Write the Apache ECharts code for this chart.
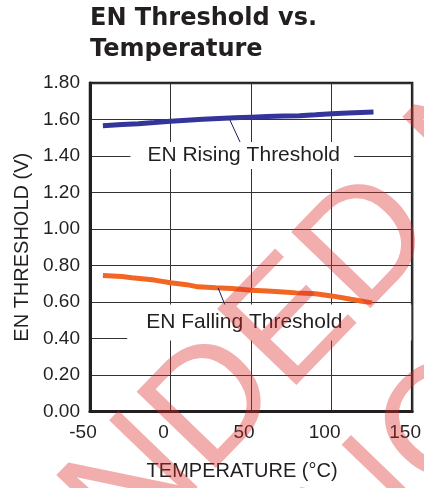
<!DOCTYPE html>
<html>
<head>
<meta charset="utf-8">
<script src="https://cdn.jsdelivr.net/npm/echarts@6/dist/echarts.min.js"></script>
<style>
html,body{margin:0;padding:0;background:#fff;}
#chart{width:424px;height:488px;}
</style>
</head>
<body>
<div id="chart"></div>
<script>
// ---- data ----
var risingTemp = [-42, -30, -20, -10, 0, 10, 20, 30, 40, 50, 60, 70, 80, 90, 100, 110, 126];
var risingVal  = [1.566, 1.572, 1.577, 1.583, 1.590, 1.596, 1.601, 1.605, 1.609, 1.613, 1.616, 1.619, 1.621, 1.626, 1.632, 1.636, 1.641];
var fallingTemp = [-42, -30, -24, -10, 0, 10, 17, 28, 38, 50, 60, 70, 78, 90, 101, 112, 125];
var fallingVal  = [0.745, 0.740, 0.733, 0.720, 0.705, 0.695, 0.683, 0.678, 0.674, 0.665, 0.660, 0.655, 0.650, 0.645, 0.632, 0.615, 0.595];
var xTicks = [-50, 0, 50, 100, 150];
var yTicks = [0, 0.2, 0.4, 0.6, 0.8, 1.0, 1.2, 1.4, 1.6, 1.8];
var risingLabel = 'EN Rising Threshold';
var fallingLabel = 'EN Falling Threshold';
var risingLabelPos = [44.5, 1.403];
var fallingLabelPos = [61.3, 0.487];
var risingLeader = [[36.7, 1.600], [43.4, 1.472]];
var fallingLeader = [[29.5, 0.678], [36.2, 0.531]];
var titleText = 'EN Threshold vs.\nTemperature';
var xName = 'TEMPERATURE (°C)';
var yName = 'EN THRESHOLD (V)';
var watermarkHead = 'NOT RECOMMEN';
var watermarkTail = 'DED NOT RECOMMENDED';
var watermarkLine2 = 'NOT RECOMMENDED';

function pairs(xs, ys){ return xs.map(function(x,i){ return [x, ys[i]]; }); }

var chart = echarts.init(document.getElementById('chart'), null, {renderer:'canvas'});
var txt = '#231f20';
var font = 'Liberation Sans, Arial, sans-serif';

// watermark geometry (rotated text, page decoration)
var wmAngle = 46 * Math.PI / 180;
var wmSize = 160;
var wmFont = wmSize + 'px "Liberation Sans", Arial, sans-serif';
var wmFill = 'rgba(220,40,40,0.38)';
var ax = Math.cos(wmAngle), ay = -Math.sin(wmAngle);      // along baseline
var bx = -Math.sin(wmAngle), by = -Math.cos(wmAngle);     // letter up
var pen = [215, 485.4];
var mid = 0.3465 * wmSize;
var a1 = [pen[0] + mid*bx, pen[1] + mid*by];
var a2 = [pen[0] + 28.3*ax - 184.3*bx + mid*bx, pen[1] + 28.3*ay - 184.3*by + mid*by];
function wm(text, p, align){
  return {type: 'text', x: p[0], y: p[1], rotation: wmAngle, z: 100, silent: true,
    style: {text: text, font: wmFont, fill: wmFill, align: align, verticalAlign: 'middle'}};
}

chart.setOption({
  animation: false,
  backgroundColor: '#fff',
  title: {
    text: titleText, left: 90, top: 3, padding: 0,
    textStyle: {fontFamily: 'DejaVu Sans', fontWeight: 'bold', fontSize: 24, lineHeight: 31, color: txt}
  },
  grid: {left: 90, right: 7, top: 83, bottom: 76.5, show: true, borderColor: '#231f20', borderWidth: 2.5, backgroundColor: 'transparent'},
  xAxis: {
    type: 'value', min: xTicks[0], max: xTicks[xTicks.length-1], interval: 50,
    name: xName, nameLocation: 'middle', nameGap: 50,
    nameTextStyle: {fontFamily: font, fontSize: 20, color: txt, padding: [0, 18, 0, 0]},
    axisLine: {show: true, onZero: false, lineStyle: {color: '#231f20', width: 3}},
    axisTick: {show: false},
    axisLabel: {fontFamily: font, fontSize: 19, color: txt, margin: 12, padding: [0, 14, 0, 0]},
    splitLine: {show: true, lineStyle: {color: '#333', width: 1}}
  },
  yAxis: {
    type: 'value', min: yTicks[0], max: yTicks[yTicks.length-1], interval: 0.2,
    name: yName, nameLocation: 'middle', nameGap: 58,
    nameTextStyle: {fontFamily: font, fontSize: 20, color: txt},
    axisLine: {show: true, onZero: false, lineStyle: {color: '#231f20', width: 3}},
    axisTick: {show: false},
    axisLabel: {fontFamily: font, fontSize: 19, color: txt, margin: 10, formatter: function(v){ return v.toFixed(2); }},
    splitLine: {show: true, lineStyle: {color: '#333', width: 1}}
  },
  series: [
    {
      type: 'line', data: pairs(risingTemp, risingVal), showSymbol: false, smooth: false,
      lineStyle: {color: '#33359a', width: 5}, z: 3,
      markLine: {
        silent: true, symbol: ['none','none'], label: {show: false},
        lineStyle: {color: '#1c1c5c', width: 1, type: 'solid'},
        data: [[{coord: risingLeader[0]}, {coord: risingLeader[1]}]]
      },
      markPoint: {
        symbol: 'rect', symbolSize: 0, silent: true,
        label: {show: true, position: 'inside', formatter: risingLabel, fontFamily: font, fontSize: 21, lineHeight: 21, color: txt,
          backgroundColor: '#fff', padding: [3, 14, 3, 17]},
        data: [{coord: risingLabelPos}]
      }
    },
    {
      type: 'line', data: pairs(fallingTemp, fallingVal), showSymbol: false, smooth: false,
      lineStyle: {color: '#f26522', width: 5}, z: 3,
      markLine: {
        silent: true, symbol: ['none','none'], label: {show: false},
        lineStyle: {color: '#1c1c5c', width: 1, type: 'solid'},
        data: [[{coord: fallingLeader[0]}, {coord: fallingLeader[1]}]]
      },
      markPoint: {
        symbol: 'rect', symbolSize: 0, silent: true,
        label: {show: true, position: 'inside', formatter: fallingLabel, fontFamily: font, fontSize: 21, lineHeight: 21, color: txt,
          backgroundColor: '#fff', padding: [10, 69, 5, 19]},
        data: [{coord: fallingLabelPos}]
      }
    }
  ],
  graphic: [
    wm(watermarkHead, a1, 'right'),
    wm(watermarkTail, a1, 'left'),
    wm(watermarkLine2, a2, 'left')
  ]
});
</script>
</body>
</html>
